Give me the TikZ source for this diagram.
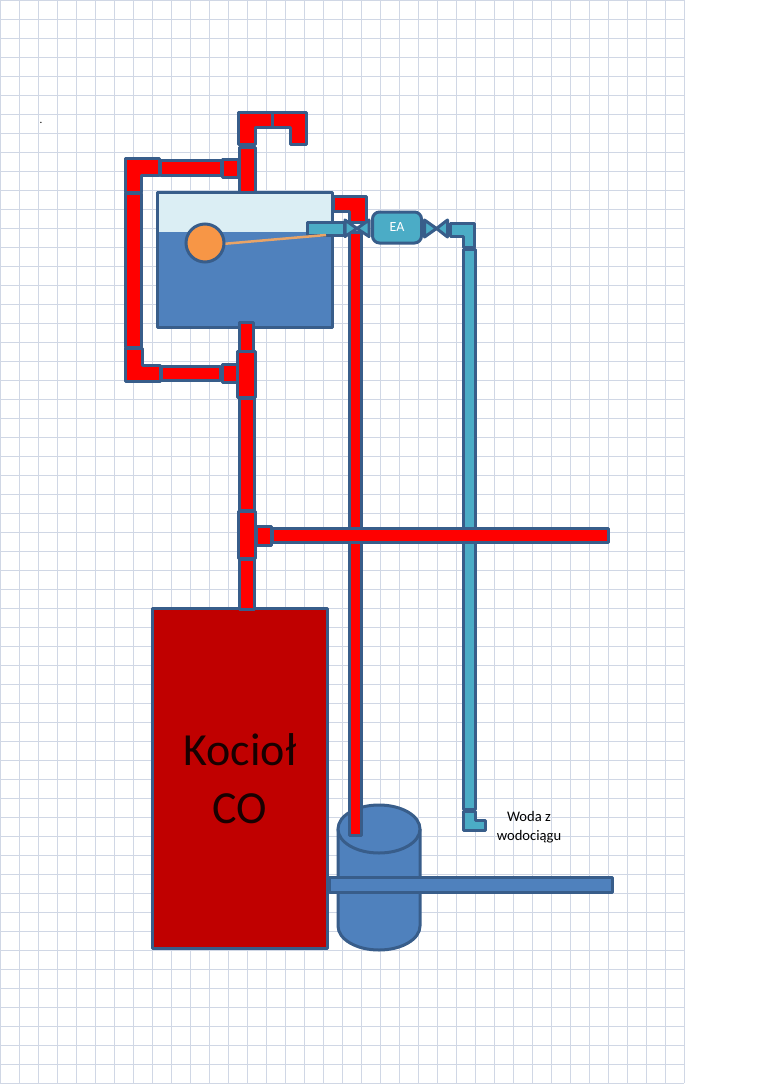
\documentclass[tikz,border=0pt]{standalone}
\usepackage{fontspec}
\setmainfont{Carlito}
\tikzset{
  gridline/.style={draw=gridc,line width=0.9pt},
  part/.style={draw=edgec,line width=3pt,line join=round},
  redp/.style={part,fill=red},
  tealp/.style={part,fill=tealc},
  bluep/.style={part,fill=bluec},
}
\definecolor{gridc}{HTML}{D0D7E5}
\definecolor{edgec}{HTML}{385D8A}
\definecolor{bluec}{HTML}{4F81BD}
\definecolor{tealc}{HTML}{4BACC6}
\definecolor{lightc}{HTML}{DBEEF4}
\definecolor{orangec}{HTML}{F79646}
\definecolor{rodc}{HTML}{E9A467}
\definecolor{boilerc}{HTML}{C00000}
\begin{document}
\begin{tikzpicture}[x=1pt,y=-1pt]
\useasboundingbox (0,0) rectangle (768,1084);
\fill[white] (0,0) rectangle (768,1084);
% grid
\foreach \gx in {0,19,...,684} \draw[gridline] (\gx+0.4,0) -- (\gx+0.4,1083);
\foreach \gy in {0,19,...,1083} \draw[gridline] (0,\gy) -- (684.4,\gy);
\node[font=\fontsize{11}{12}\selectfont,inner sep=0pt] (dot) at (41,123) {.};
% cylinder
\path[bluep] (338,829) -- (338,926) arc[start angle=180,end angle=0,x radius=41,y radius=24] -- (420,829) -- cycle;
\path[bluep] (379,829) ellipse[x radius=41,y radius=24];
% boiler
\path[part,fill=boilerc] (152,608) rectangle (327.5,948);
\node[font=\fontsize{46}{58}\selectfont,align=center,text=black!90!red,inner sep=0pt] (kociol) at (240,779) {Kocioł\\CO};
% vertical red riser to the tank
\path[redp] (239.5,559) rectangle (254,609);
\path[redp] (239.5,398) rectangle (254,510);
% tank
\path[part,fill=lightc] (157.5,192) rectangle (332.5,327);
\fill[bluec] (159,232) rectangle (331,325.5);
\path[redp] (239.5,322) rectangle (253.5,351);
\path[redp] (333,196) -- (366,196) -- (366,222) -- (349,222) -- (349,211) -- (333,211) -- cycle;
% top pipes
\path[redp] (239,147) rectangle (255,192);
\path[redp] (238.5,112) -- (272.5,112) -- (272.5,127) -- (255,127) -- (255,144) -- (238.5,144) -- cycle;
\path[redp] (272.5,112) -- (306,112) -- (306,144.5) -- (290,144.5) -- (290,127) -- (272.5,127) -- cycle;
\path[redp] (125,158) -- (159.5,158) -- (159.5,175) -- (141,175) -- (141,192) -- (125,192) -- cycle;
\path[redp] (160.5,160.5) rectangle (221,175);
\path[redp] (222.5,159) rectangle (238,177);
\path[redp] (125.5,193) rectangle (141,347);
% lower loop
\path[redp] (125,348) -- (142,348) -- (142,365) -- (160,365) -- (160,381.5) -- (125,381.5) -- cycle;
\path[redp] (161.5,366.5) rectangle (220.5,380.5);
\path[redp] (222,364) rectangle (237,382);
\path[redp] (237.5,351.5) rectangle (255,397);
% long red pipe
\path[redp] (349.5,232) rectangle (361.5,835);
% teal pipes
\path[tealp] (307,222) rectangle (344,235);
\path[tealp] (463.5,249.5) rectangle (475,809);
\path[tealp] (450,223) -- (474,223) -- (474,247.5) -- (463,247.5) -- (463,236.5) -- (450,236.5) -- cycle;
\path[tealp] (463.5,811) -- (475,811) -- (475,820) -- (485,820) -- (485,830.5) -- (463.5,830.5) -- cycle;
% float
\draw[rodc,line width=2.5pt] (222,244) -- (326,235);
\node[circle,draw=edgec,line width=3pt,fill=orangec,minimum size=38pt,inner sep=0pt] (ball) at (205,243) {};
% valves
\path[tealp] (345,220) -- (357,228.5) -- (345,236.5) -- cycle;
\path[tealp] (369,220) -- (357,228.5) -- (369,236.5) -- cycle;
\path[tealp] (424.5,220) -- (436.5,228.5) -- (424.5,237) -- cycle;
\path[tealp] (447.5,220) -- (436.5,228.5) -- (447.5,237) -- cycle;
\node[part,fill=tealc,rounded corners=7pt,minimum width=49pt,minimum height=31pt,inner sep=0pt,text=white,font=\fontsize{14}{16}\selectfont] (ea) at (397,227.5) {EA};
% branch pipe
\path[redp] (238,511) rectangle (255.5,558);
\path[redp] (256,526) rectangle (271,545);
\path[redp] (272,528) rectangle (608,542.5);
% outlet
\path[bluep] (329,877) rectangle (612,892.5);
\node[font=\fontsize{14.6}{19}\selectfont,align=center,inner sep=0pt,text=black] (woda) at (529,827) {Woda z\\wodociągu};
\end{tikzpicture}
\end{document}
